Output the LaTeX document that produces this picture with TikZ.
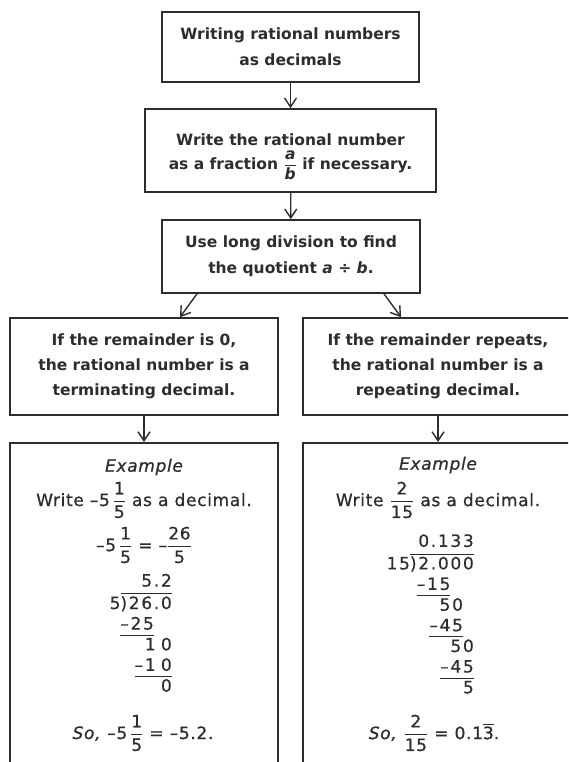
\documentclass[tikz,border=0pt]{standalone}
\usepackage{amsmath}
\usepackage{fontspec}
\setmainfont{DejaVu Sans}
\usetikzlibrary{positioning, arrows.meta}
\definecolor{ink}{RGB}{45,45,45}

\newcommand{\nfrac}[2]{$\dfrac{\text{#1}}{\text{#2}}$}
\newcommand{\divline}[1]{$\underline{\text{#1}\rule[-3pt]{0pt}{0pt}}$}

\begin{document}
\begin{tikzpicture}[
    x=1pt, y=-1pt,
    every node/.style={text=ink},
    box/.style={draw=ink, line width=1.6pt, align=center, inner sep=0pt,
                font=\bfseries\fontsize{15.5}{26}\selectfont},
    exbox/.style={draw=ink, line width=1.6pt, inner sep=0pt,
                  minimum width=268pt, minimum height=340pt, anchor=north},
    extext/.style={align=center, inner sep=0pt,
                   font=\fontsize{17}{20.5}\selectfont\addfontfeature{LetterSpace=4,FakeBold=0.8}},
    exhead/.style={extext,
                   font=\itshape\fontsize{17}{20.5}\selectfont\addfontfeature{LetterSpace=4,FakeBold=0.8}},
    divtext/.style={inner sep=0pt, anchor=east,
                    font=\fontsize{17}{20.5}\selectfont\addfontfeature{LetterSpace=10,FakeBold=0.5}},
    arrow/.style={-{Straight Barb[length=9pt,width=12pt]}, line width=1.4pt, draw=ink},
]
\useasboundingbox (0,0) rectangle (568,762);
\clip (0,0) rectangle (568,762);

% flow boxes (top to bottom)
\node[box, minimum width=257pt, minimum height=70pt] (title) at (290.5,47)
    {Writing rational numbers\\as decimals};
\node[box, font=\bfseries\fontsize{15.5}{24}\selectfont,
      minimum width=291pt, minimum height=83pt] (frac) at (290.5,150.5)
    {\rule{0pt}{24pt}Write the rational number\\as a fraction \nfrac{\itshape a}{\itshape b} if necessary.};
\node[box, minimum width=258pt, minimum height=73pt] (quot) at (291,256.5)
    {Use long division to find\\the quotient \textit{a} ÷ \textit{b}.};
\node[box, font=\bfseries\fontsize{15.5}{25}\selectfont,
      minimum width=268pt, minimum height=97pt] (zero) at (144,366.5)
    {If the remainder is 0,\\the rational number is a\\terminating decimal.};
\node[box, font=\bfseries\fontsize{15.5}{25}\selectfont,
      minimum width=270pt, minimum height=97pt] (repeat) at (438,366.5)
    {If the remainder repeats,\\the rational number is a\\repeating decimal.};

% example panels (run off the bottom edge)
\node[exbox] (exzero) at (144,442) {};
\node[exbox, minimum width=270pt] (exrepeat) at (438,442) {};

% arrows
\draw[arrow] (title) -- (frac);
\draw[arrow] (frac) -- (quot);
\draw[arrow] ([xshift=-94pt]quot.south) -- ([xshift=36pt]zero.north);
\draw[arrow] ([xshift=93pt]quot.south) -- ([xshift=-37pt]repeat.north);
\draw[arrow] (zero) -- (exzero);
\draw[arrow] (repeat) -- (exrepeat);

% terminating example
\node[exhead] (exzerohead) at (144,467) {Example};
\node[extext] (exzerotask) at (144,500) {Write --5\,\nfrac{1}{5} as a decimal.};
\node[extext] (exzerostep) at (144,545) {--5\,\nfrac{1}{5} = --\nfrac{26}{5}};
\node[divtext] (exzerodiv) at (172,635) {%
    \begin{tabular}{@{}r@{}}
    5.2\\
    5$\overline{\text{)26.0}}$\\
    \divline{--25}\phantom{.0}\\
    1\phantom{.}0\\
    \divline{--1\phantom{.}0}\\
    0
    \end{tabular}};
\node[extext] (exzeroso) at (143,733) {\textit{So,} --5\,\nfrac{1}{5} = --5.2.};

% repeating example
\node[exhead] (exrepeathead) at (438,465) {Example};
\node[extext] (exrepeattask) at (438,500) {Write \nfrac{2}{15} as a decimal.};
\node[divtext] (exrepeatdiv) at (474,616) {%
    \begin{tabular}{@{}r@{}}
    0.133\\
    15$\overline{\text{)2.000}}$\\
    \divline{--15}\phantom{00}\\
    50\phantom{0}\\
    \divline{--45}\phantom{0}\\
    50\\
    \divline{--45}\\
    5
    \end{tabular}};
\node[extext] (exrepeatso) at (434,733) {\textit{So,} \nfrac{2}{15} = 0.1$\overline{\text{3}}$.};

\end{tikzpicture}
\end{document}
